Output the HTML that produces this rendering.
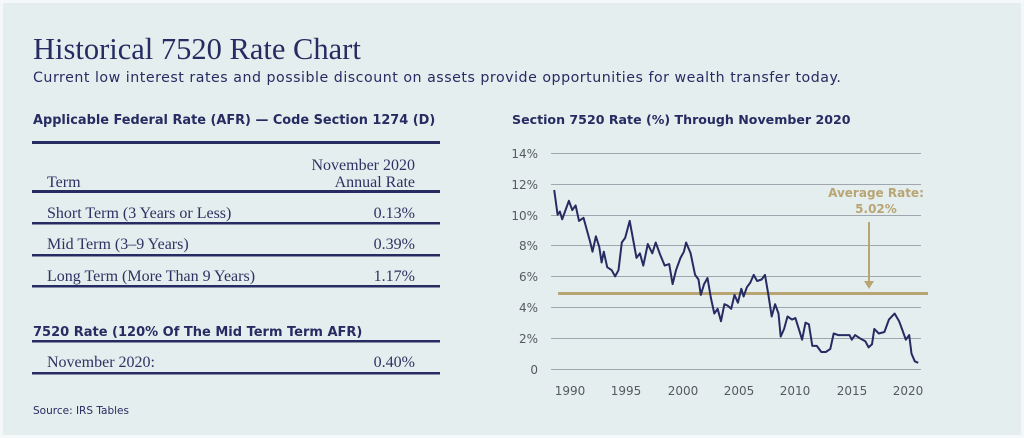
<!DOCTYPE html>
<html><head><meta charset="utf-8"><style>
html,body{margin:0;padding:0;background:#fff;}
svg{display:block;}
.serif{font-family:"Liberation Serif",serif;}
.sans{font-family:"DejaVu Sans","Liberation Sans",sans-serif;}
</style></head><body>
<svg width="1024" height="438" xmlns="http://www.w3.org/2000/svg">
<rect x="0" y="0" width="1024" height="438" fill="#f4f8f8"/>
<rect x="3" y="3" width="1018" height="432" fill="#e4eeee"/>
<text x="33" y="59" class="serif" font-size="30.5" fill="#262c62">Historical 7520 Rate Chart</text>
<text x="33" y="82" class="sans" font-size="14.2" fill="#262c62" letter-spacing="0.52">Current low interest rates and possible discount on assets provide opportunities for wealth transfer today.</text>
<text x="33" y="124" class="sans" font-size="12.9" font-weight="bold" fill="#262c62">Applicable Federal Rate (AFR)  — Code Section 1274 (D)</text>
<g fill="#262c62">
<rect x="32" y="141" width="408" height="3"/>
<rect x="32" y="190" width="408" height="3"/>
<rect x="32" y="222" width="408" height="2.5"/>
<rect x="32" y="254" width="408" height="2.5"/>
<rect x="32" y="285" width="408" height="2.5"/>
<rect x="32" y="340" width="408" height="2.5"/>
<rect x="32" y="372" width="408" height="2.5"/>
</g>
<g class="serif" font-size="16" fill="#2d3262">
<text x="415" y="170" text-anchor="end">November 2020</text>
<text x="415" y="187" text-anchor="end">Annual Rate</text>
<text x="47" y="187">Term</text>
<text x="47" y="218">Short Term (3 Years or Less)</text>
<text x="415" y="218" text-anchor="end">0.13%</text>
<text x="47" y="249">Mid Term (3–9 Years)</text>
<text x="415" y="249" text-anchor="end">0.39%</text>
<text x="47" y="281">Long Term (More Than 9 Years)</text>
<text x="415" y="281" text-anchor="end">1.17%</text>
<text x="47" y="367">November 2020:</text>
<text x="415" y="367" text-anchor="end">0.40%</text>
</g>
<text x="33" y="336" class="sans" font-size="13" font-weight="bold" fill="#262c62">7520 Rate (120% Of The Mid Term Term AFR)</text>
<text x="33" y="414" class="sans" font-size="10.5" fill="#262c62">Source: IRS Tables</text>
<text x="512" y="124" class="sans" font-size="12.6" font-weight="bold" fill="#262c62">Section 7520 Rate (%) Through  November 2020</text>
<g stroke="#a0a6ad" stroke-width="1">
<line x1="551" y1="153.5" x2="921" y2="153.5"/>
<line x1="551" y1="184.5" x2="921" y2="184.5"/>
<line x1="551" y1="215.5" x2="921" y2="215.5"/>
<line x1="551" y1="245.5" x2="921" y2="245.5"/>
<line x1="551" y1="276.5" x2="921" y2="276.5"/>
<line x1="551" y1="307.5" x2="921" y2="307.5"/>
<line x1="551" y1="338.5" x2="921" y2="338.5"/>
<line x1="551" y1="369.5" x2="921" y2="369.5"/>
</g>
<g class="sans" font-size="12" fill="#555a60" text-anchor="end">
<text x="538" y="158">14%</text><text x="538" y="189">12%</text><text x="538" y="220">10%</text>
<text x="538" y="250">8%</text><text x="538" y="281">6%</text><text x="538" y="312">4%</text>
<text x="538" y="343">2%</text><text x="538" y="374">0</text>
</g>
<g class="sans" font-size="12" fill="#555a60" text-anchor="middle">
<text x="570" y="395">1990</text><text x="626" y="395">1995</text><text x="683" y="395">2000</text>
<text x="739" y="395">2005</text><text x="795" y="395">2010</text><text x="852" y="395">2015</text><text x="908" y="395">2020</text>
</g>
<line x1="558" y1="293.5" x2="928" y2="293.5" stroke="#b9a574" stroke-width="3"/>
<line x1="869" y1="222" x2="869" y2="283" stroke="#b9a574" stroke-width="2"/>
<polygon points="864,281 874,281 869,289" fill="#b9a574"/>
<g class="sans" font-size="12" font-weight="bold" fill="#b9a574" text-anchor="middle">
<text x="876" y="197">Average Rate:</text><text x="876" y="213">5.02%</text>
</g>
<polyline fill="none" stroke="#262c62" stroke-width="2" stroke-linejoin="round" points="554.2,190.0 557.6,214.7 559.9,211.6 562.2,219.3 565.5,210.1 568.9,200.8 572.3,210.1 575.6,205.4 579.0,220.9 583.5,217.8 586.9,230.1 590.3,242.5 592.5,251.7 595.9,236.3 599.3,247.1 601.6,262.5 603.8,251.7 607.2,267.2 611.7,270.2 615.1,276.4 618.5,270.2 621.8,242.5 625.2,237.8 629.7,220.9 633.1,239.4 636.5,257.9 639.9,253.3 643.3,265.6 647.8,244.0 652.3,253.3 655.7,242.5 660.2,254.8 664.7,265.6 669.2,264.1 672.6,284.1 676.0,270.2 680.5,257.9 683.9,251.7 686.1,242.5 690.6,253.3 695.1,274.9 698.5,279.5 700.8,294.9 704.1,284.1 707.5,278.0 710.9,298.0 714.3,313.5 717.6,308.8 721.0,321.2 724.4,304.2 727.8,305.7 731.2,308.8 734.5,294.9 737.9,302.7 741.3,288.8 743.6,296.5 746.9,287.2 750.3,282.6 753.7,274.9 757.1,281.0 761.6,279.5 765.0,274.9 768.4,294.9 771.7,316.5 775.1,304.2 778.5,313.5 780.7,336.6 784.1,328.9 787.5,316.5 792.0,319.6 795.4,318.1 798.8,328.9 802.1,339.7 805.5,322.7 808.9,324.3 812.3,345.9 816.8,345.9 821.3,352.0 825.8,352.0 830.3,348.9 833.7,333.5 838.2,335.1 843.9,335.1 849.5,335.1 851.8,339.7 855.1,335.1 859.6,338.1 865.3,341.2 868.6,347.4 872.0,344.3 874.3,328.9 878.8,333.5 884.4,332.0 888.9,319.6 894.6,313.5 899.1,321.2 902.5,330.4 905.8,339.7 909.2,335.1 911.5,353.6 914.8,361.3 918.2,362.8"/>
</svg>
</body></html>
